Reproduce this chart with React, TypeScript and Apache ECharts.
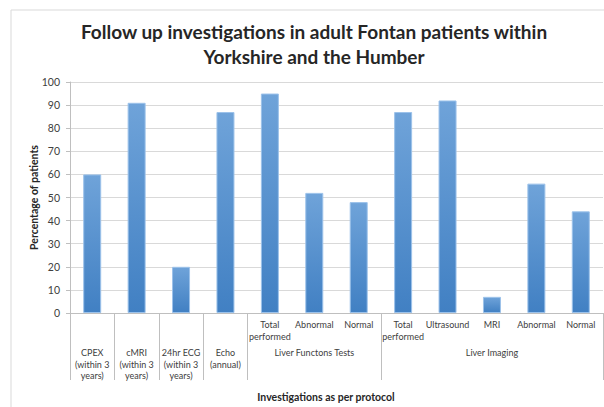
import React, { useEffect, useRef } from 'react';
import * as echarts from 'echarts';

const chartTitle = 'Follow up investigations in adult Fontan patients within\nYorkshire and the Humber';
const yAxisTitle = 'Percentage of patients';
const xAxisTitle = 'Investigations as per protocol';

const subLabels = ['', '', '', '', 'Total\nperformed', 'Abnormal', 'Normal', 'Total\nperformed', 'Ultrasound', 'MRI', 'Abnormal', 'Normal'];
const groupLabels = [
  'CPEX\n(within 3\nyears)',
  'cMRI\n(within 3\nyears)',
  '24hr ECG\n(within 3\nyears)',
  'Echo\n(annual)',
  '',
  'Liver Functons Tests',
  '',
  '',
  '',
  'Liver Imaging',
  '',
  '',
];
const values = [60, 91, 20, 87, 95, 52, 48, 87, 92, 7, 56, 44];
const dividerStarts = [0, 1, 2, 3, 4, 7];
const yMin = 0;
const yMax = 100;
const yStep = 10;

const FONT = 'Lato, "Open Sans", sans-serif';

export default function App() {
  const ref = useRef<HTMLDivElement>(null);
  useEffect(() => {
    if (!ref.current) return;
    const chart = echarts.init(ref.current, null, { renderer: 'svg' });
    const idx = values.map((_, i) => String(i));
    const grid = { left: 70, right: 1, top: 82, bottom: 94, containLabel: false };
    chart.setOption({
      animation: false,
      backgroundColor: '#ffffff',
      textStyle: { fontFamily: FONT },
      title: {
        text: chartTitle,
        left: 309,
        top: 14,
        textAlign: 'center',
        textStyle: {
          fontFamily: FONT,
          fontSize: 19,
          fontWeight: 'bold',
          color: '#262626',
          lineHeight: 25,
        },
      },
      graphic: [
        {
          type: 'rect',
          shape: { x: 11, y: 10, width: 640, height: 440 },
          style: { fill: 'none', stroke: '#d9d9d9', lineWidth: 1 },
          silent: true,
          z: -10,
        },
        {
          type: 'text',
          x: 326,
          y: 397,
          style: {
            text: xAxisTitle,
            fontFamily: FONT,
            fontSize: 10.5,
            fontWeight: 'bold',
            fill: '#262626',
            align: 'center',
            verticalAlign: 'middle',
          },
        },
      ],
      grid: [grid, { ...grid }],
      xAxis: [
        {
          type: 'category',
          gridIndex: 0,
          data: idx,
          boundaryGap: true,
          axisLine: { show: true, lineStyle: { color: '#bfbfbf', width: 1 } },
          axisTick: {
            show: true,
            length: 67,
            interval: (i: number) => dividerStarts.includes(i),
            lineStyle: { color: '#bfbfbf', width: 1 },
          },
          axisLabel: {
            interval: 0,
            margin: 6,
            fontSize: 9,
            lineHeight: 11.5,
            color: '#404040',
            fontFamily: FONT,
            formatter: (_v: string, i: number) => subLabels[i],
          },
          splitLine: { show: false },
        },
        {
          type: 'category',
          gridIndex: 1,
          data: idx,
          boundaryGap: true,
          axisLine: { show: false },
          axisTick: { show: false },
          axisLabel: {
            interval: 0,
            margin: 34,
            fontSize: 9,
            lineHeight: 11.5,
            color: '#404040',
            fontFamily: FONT,
            formatter: (_v: string, i: number) => groupLabels[i],
          },
          splitLine: { show: false },
        },
      ],
      yAxis: [
        {
          type: 'value',
          gridIndex: 0,
          min: yMin,
          max: yMax,
          interval: yStep,
          name: yAxisTitle,
          nameLocation: 'middle',
          nameGap: 31,
          nameMoveOverlap: false,
          nameTextStyle: { fontFamily: FONT, fontSize: 10.5, fontWeight: 'bold', color: '#262626' },
          axisLine: { show: true, lineStyle: { color: '#bfbfbf' } },
          axisTick: { show: true, inside: false, length: 4, lineStyle: { color: '#bfbfbf' } },
          axisLabel: { margin: 10, fontSize: 10.5, color: '#404040', fontFamily: FONT },
          splitLine: { show: true, lineStyle: { color: '#d9d9d9', width: 1 } },
        },
        {
          type: 'value',
          gridIndex: 1,
          min: yMin,
          max: yMax,
          interval: yStep,
          show: false,
        },
      ],
      series: [
        {
          type: 'bar',
          xAxisIndex: 0,
          yAxisIndex: 0,
          data: values,
          barWidth: 18,
          itemStyle: {
            color: new echarts.graphic.LinearGradient(0, 0, 0, 1, [
              { offset: 0, color: '#6fa3d9' },
              { offset: 1, color: '#4180c3' },
            ]),
            borderColor: '#9cc2ea',
            borderWidth: 1,
          },
        },
      ],
    });
    return () => chart.dispose();
  }, []);
  return (
    <div
      ref={ref}
      style={{ position: 'fixed', left: 0, top: 0, width: 604, height: 407 }}
    />
  );
}
